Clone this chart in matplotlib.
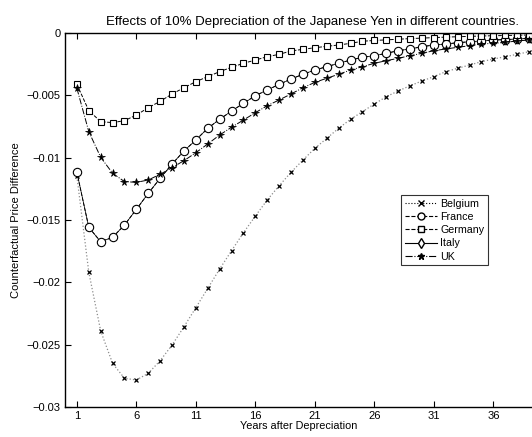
"""Effects of 10% depreciation of the Japanese yen, counterfactual price difference by country."""

import matplotlib

matplotlib.use("Agg")
import matplotlib.pyplot as plt
from matplotlib.lines import Line2D

plt.rcParams["font.family"] = ["Liberation Sans", "DejaVu Sans"]

YEARS = list(range(1, 41))

BELGIUM = [
    -0.0115, -0.01919, -0.02390, -0.02650, -0.02770, -0.02783, -0.02730, -0.02628,
    -0.02503, -0.02356, -0.02203, -0.02048, -0.01893, -0.01746, -0.01602, -0.01468,
    -0.01339, -0.01225, -0.01117, -0.01019, -0.00925, -0.00845, -0.00764, -0.00692,
    -0.00631, -0.00569, -0.00511, -0.00465, -0.00423, -0.00385, -0.00350, -0.00310,
    -0.00283, -0.00257, -0.00230, -0.00209, -0.00190, -0.00171, -0.00150, -0.00138,
]
FRANCE = [
    -0.01117, -0.01559, -0.01674, -0.01639, -0.01540, -0.01414, -0.01286, -0.01165,
    -0.01051, -0.00946, -0.00858, -0.00764, -0.00692, -0.00626, -0.00564, -0.00503,
    -0.00457, -0.00412, -0.00369, -0.00331, -0.00297, -0.00270, -0.00243, -0.00217,
    -0.00195, -0.00182, -0.00163, -0.00142, -0.00128, -0.00110, -0.00096, -0.00088,
    -0.00078, -0.00070, -0.00064, -0.00056, -0.00053, -0.00048, -0.00043, -0.00039,
]
GERMANY = [
    -0.00412, -0.00623, -0.00711, -0.00719, -0.00703, -0.00658, -0.00599, -0.00548,
    -0.00489, -0.00439, -0.00390, -0.00350, -0.00310, -0.00275, -0.00243, -0.00217,
    -0.00190, -0.00171, -0.00144, -0.00131, -0.00118, -0.00107, -0.00096, -0.00083,
    -0.00066, -0.00060, -0.00055, -0.00050, -0.00045, -0.00041, -0.00037, -0.00033,
    -0.00030, -0.00027, -0.00024, -0.00022, -0.00020, -0.00018, -0.00016, -0.00014,
]
# Italy is not visible in the plot: it sits under the France curve.
ITALY = FRANCE
UK = [
    -0.00444, -0.00791, -0.00997, -0.01125, -0.01192, -0.01198, -0.01179, -0.01133,
    -0.01080, -0.01024, -0.00960, -0.00890, -0.00818, -0.00756, -0.00698, -0.00639,
    -0.00583, -0.00537, -0.00489, -0.00439, -0.00396, -0.00363, -0.00331, -0.00297,
    -0.00270, -0.00243, -0.00222, -0.00203, -0.00182, -0.00163, -0.00142, -0.00128,
    -0.00115, -0.00102, -0.00088, -0.00083, -0.00075, -0.00064, -0.00056, -0.00050,
]

X_TICKS = [1, 6, 11, 16, 21, 26, 31, 36]
Y_TICKS = [0, -0.005, -0.01, -0.015, -0.02, -0.025, -0.03]
Y_TICK_LABELS = ["0", "\u22120.005", "\u22120.01", "\u22120.015", "\u22120.02", "\u22120.025", "\u22120.03"]

figure = plt.figure(figsize=(5.32, 4.37), dpi=100)
axis = figure.add_axes([65 / 532, 30 / 437, 467 / 532, 374 / 437])

axis.plot(YEARS, BELGIUM, linestyle=":", color="0.55", linewidth=0.9)
axis.plot(YEARS, BELGIUM, linestyle="none", marker="x", color="black",
          markersize=3.5, markeredgewidth=0.9)
axis.plot(YEARS, FRANCE, linestyle="--", color="black", linewidth=0.7)
axis.plot(YEARS, ITALY, linestyle="-", color="black", linewidth=0.5)
axis.plot(YEARS, FRANCE, linestyle="none", marker="o", markersize=6,
          markerfacecolor="white", markeredgecolor="black", markeredgewidth=0.8)
axis.plot(YEARS, GERMANY, linestyle="--", color="black", linewidth=0.7, marker="s",
          markersize=4.5, markerfacecolor="white", markeredgecolor="black", markeredgewidth=0.8)
axis.plot(YEARS, UK, linestyle="-.", color="black", linewidth=0.7, marker="*",
          markersize=5.5, markeredgewidth=0.5)

axis.set_xlim(0, 39.25)
axis.set_ylim(-0.03, 0)
axis.set_xticks(X_TICKS)
axis.set_yticks(Y_TICKS)
axis.set_yticklabels(Y_TICK_LABELS)
axis.tick_params(direction="in", top=True, labelsize=8, length=4, width=0.8, pad=3)
for spine in axis.spines.values():
    spine.set_linewidth(1.0)
axis.spines["right"].set_visible(False)

# the original axes run past the cropped right edge, so the title sits right of centre
axis.set_title("Effects of 10% Depreciation of the Japanese Yen in different countries.",
               fontsize=9.5, pad=6, x=0.529)
axis.set_xlabel("Years after Depreciation", fontsize=7.8, labelpad=0)
axis.set_ylabel("Counterfactual Price Difference", fontsize=8, labelpad=4)

handles = [
    Line2D([], [], linestyle=":", color="black", marker="x", markersize=4, linewidth=0.8),
    Line2D([], [], linestyle="--", color="black", marker="o", markersize=5,
           markerfacecolor="white", linewidth=0.8),
    Line2D([], [], linestyle="--", color="black", marker="s", markersize=4,
           markerfacecolor="white", linewidth=0.8),
    Line2D([], [], linestyle="-", color="black", marker="d", markersize=5,
           markerfacecolor="white", linewidth=0.8),
    Line2D([], [], linestyle="-.", color="black", marker="*", markersize=5, linewidth=0.8),
]
legend = axis.legend(handles, ["Belgium", "France", "Germany", "Italy", "UK"],
                     loc="upper left", bbox_to_anchor=(401 / 532, 1 - 195 / 437),
                     bbox_transform=figure.transFigure, fontsize=7.7, frameon=True,
                     fancybox=False, edgecolor="black", handlelength=3.0,
                     handletextpad=0.3, borderpad=0.35, labelspacing=0.3,
                     borderaxespad=0)
legend.get_frame().set_linewidth(0.8)

figure.savefig("out.png", dpi=100)
